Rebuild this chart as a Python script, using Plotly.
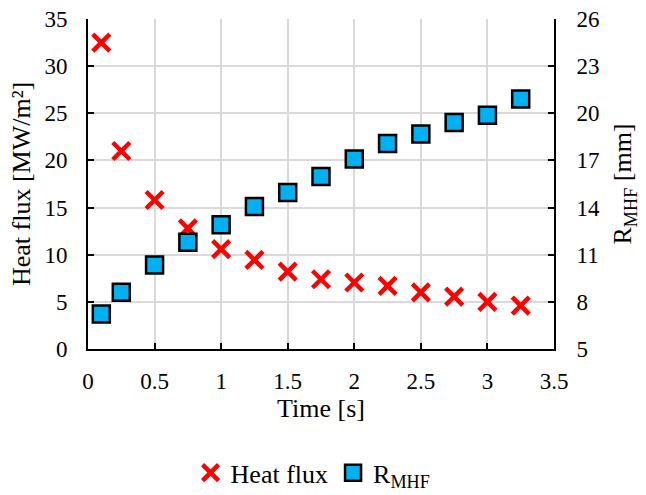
import plotly.graph_objects as go

# Time samples [s]
time_s = [0.1, 0.25, 0.5, 0.75, 1.0, 1.25, 1.5, 1.75, 2.0, 2.25, 2.5, 2.75, 3.0, 3.25]
# Heat flux [MW/m²]
heat_flux = [32.5, 21.0, 15.8, 12.8, 10.6, 9.45, 8.2, 7.4, 7.05, 6.7, 6.0, 5.55, 5.0, 4.6]
# Radius of maximum heat flux [mm]
r_mhf = [7.23, 8.61, 10.35, 11.8, 12.9, 14.07, 14.96, 15.98, 17.09, 18.07, 18.68, 19.42, 19.87, 20.91]

x_ticks = [0, 0.5, 1, 1.5, 2, 2.5, 3, 3.5]
x_tick_text = ["0", "0.5", "1", "1.5", "2", "2.5", "3", "3.5"]
left_ticks = [0, 5, 10, 15, 20, 25, 30, 35]
right_ticks = [5, 8, 11, 14, 17, 20, 23, 26]

FONT = "'Liberation Serif', 'Times New Roman', Times, serif"
TICK_SIZE = 23
TITLE_SIZE = 26

fig = go.Figure()
fig.add_trace(go.Scatter(
    x=time_s, y=heat_flux, mode="markers", name="Heat flux",
    marker=dict(symbol="x-thin", size=17, color="#ff0000",
                line=dict(color="#ff0000", width=4.5)),
    yaxis="y",
))
fig.add_trace(go.Scatter(
    x=time_s, y=r_mhf, mode="markers", name="R<sub>MHF</sub>",
    marker=dict(symbol="square", size=17, color="#00b0f0",
                line=dict(color="black", width=2.5)),
    yaxis="y2",
))

axis_common = dict(
    showline=True, linecolor="black", linewidth=2,
    ticks="inside", ticklen=6, tickwidth=2, tickcolor="black",
    tickfont=dict(family=FONT, size=TICK_SIZE, color="black"),
    zeroline=False, automargin=False,
)

fig.update_layout(
    width=646, height=495,
    margin=dict(l=88, r=92, t=19, b=146, autoexpand=False),
    paper_bgcolor="white", plot_bgcolor="white",
    font=dict(family=FONT, color="black"),
    xaxis=dict(
        range=[0, 3.5], tickvals=x_ticks, ticktext=x_tick_text,
        showgrid=True, gridcolor="#d9d9d9", gridwidth=1.5,
        title=dict(text="Time [s]", font=dict(family=FONT, size=TITLE_SIZE), standoff=6),
        ticklabelstandoff=10,
        **axis_common,
    ),
    yaxis=dict(
        range=[0, 35], tickvals=left_ticks,
        showgrid=True, gridcolor="#d9d9d9", gridwidth=1.5,
        title=dict(text="Heat flux [MW/m²]", font=dict(family=FONT, size=TITLE_SIZE), standoff=6),
        ticklabelstandoff=14,
        **axis_common,
    ),
    yaxis2=dict(
        range=[5, 26], tickvals=right_ticks, overlaying="y", side="right",
        showgrid=False,
        title=dict(text="R<sub>MHF</sub> [mm]", font=dict(family=FONT, size=TITLE_SIZE), standoff=14),
        ticklabelstandoff=16,
        **axis_common,
    ),
    showlegend=True,
    legend=dict(
        orientation="h", x=0.483, xanchor="center", y=-0.375, yanchor="middle",
        font=dict(family=FONT, size=TITLE_SIZE, color="black"),
        itemwidth=30, bgcolor="rgba(0,0,0,0)",
    ),
)

fig.write_html("out.html")
